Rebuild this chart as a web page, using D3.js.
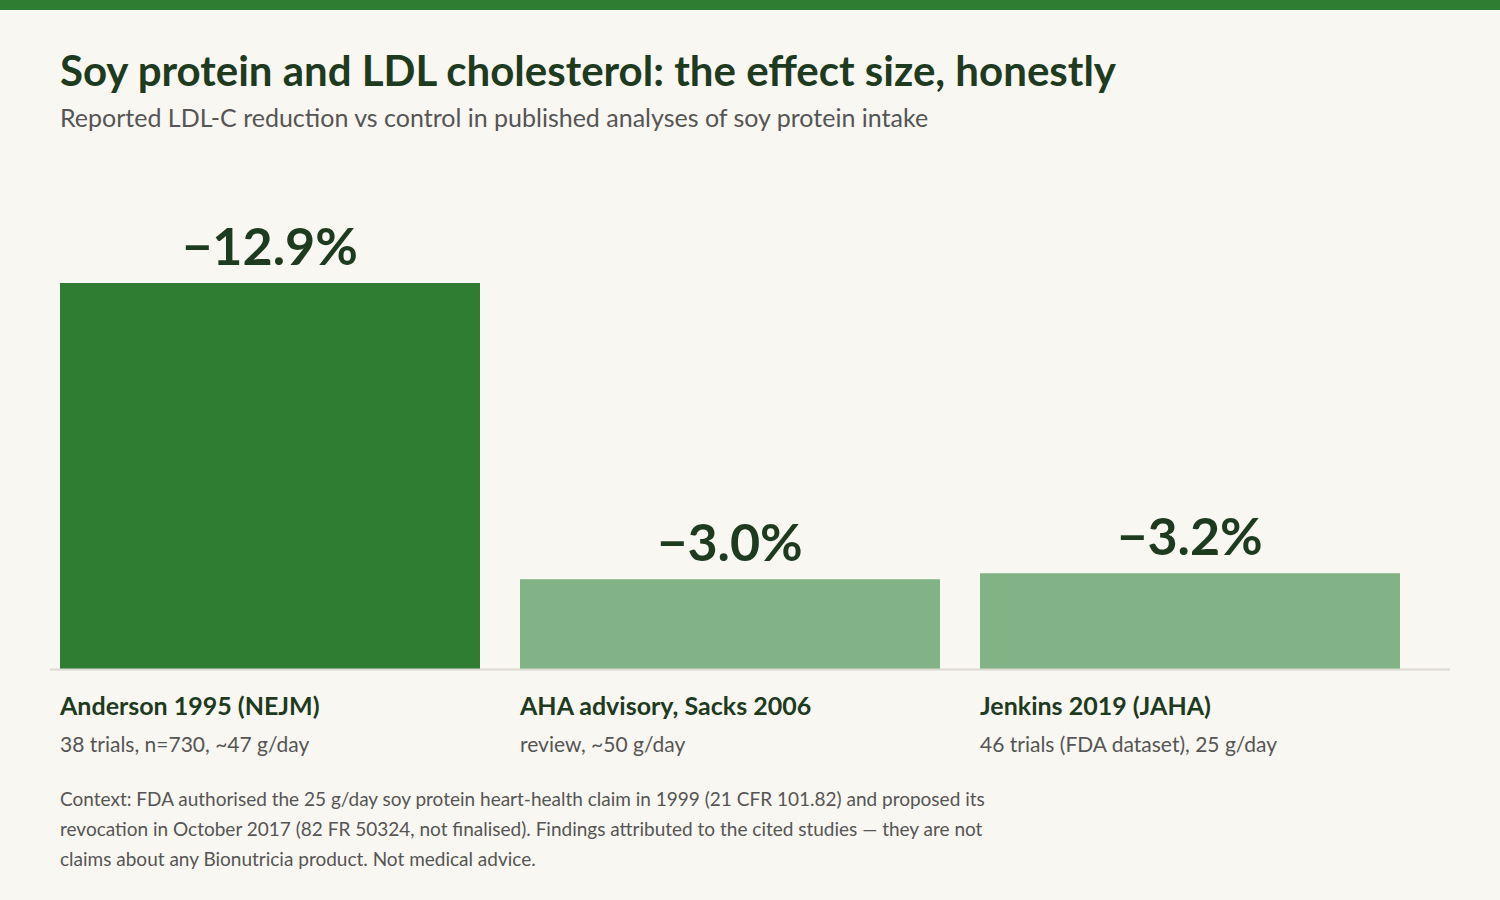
<!DOCTYPE html><html><head><meta charset="utf-8">
<script src="https://cdn.jsdelivr.net/npm/d3@7"></script>
<style>body{margin:0;background:#f9f7f1;}svg{display:block;font-family:Lato,sans-serif;}</style></head><body>
<svg id="c" width="1500" height="900"></svg>
<script>
const categories=["Anderson 1995 (NEJM)","AHA advisory, Sacks 2006","Jenkins 2019 (JAHA)"];
const details=["38 trials, n=730, ~47 g/day","review, ~50 g/day","46 trials (FDA dataset), 25 g/day"];
const values=[12.9,3.0,3.2];
const labels=["\u221212.9%","\u22123.0%","\u22123.2%"];
const highlight=[true,false,false];
const svg=d3.select("#c");
svg.append("rect").attr("width",1500).attr("height",900).attr("fill","#f9f7f1");
svg.append("rect").attr("width",1500).attr("height",10).attr("fill","#2e7d32");
svg.append("text").attr("x",60).attr("y",86).attr("font-size",42).attr("font-weight",700).attr("fill","#1e3a1f").text("Soy protein and LDL cholesterol: the effect size, honestly");
svg.append("text").attr("x",60).attr("y",127).attr("font-size",25).attr("fill","#555").text("Reported LDL-C reduction vs control in published analyses of soy protein intake");
const x=d3.scaleBand().domain(categories).range([40,1420]).paddingInner(40/460).paddingOuter(20/460);
const y=d3.scaleLinear().domain([0,12.9]).range([669,283]);
const g=svg.append("g");
categories.forEach((c,i)=>{
  const bx=x(c),bw=x.bandwidth();
  g.append("rect").attr("x",bx).attr("width",bw).attr("y",y(values[i])).attr("height",y(0)-y(values[i])).attr("fill",highlight[i]?"#2e7d32":"#81b386");
  g.append("text").attr("x",bx+bw/2).attr("y",y(values[i])-18).attr("text-anchor","middle").attr("font-size",52).attr("font-weight",700).attr("fill","#1e3a1f").text(labels[i]);
  g.append("text").attr("x",bx).attr("y",715).attr("font-size",25).attr("font-weight",700).attr("fill","#1e3a1f").text(c);
  g.append("text").attr("x",bx).attr("y",752).attr("font-size",21).attr("fill","#555").text(details[i]);
});
svg.append("line").attr("x1",50).attr("x2",1450).attr("y1",669.5).attr("y2",669.5).attr("stroke","#dddad2").attr("stroke-width",2);
const foot=["Context: FDA authorised the 25 g/day soy protein heart-health claim in 1999 (21 CFR 101.82) and proposed its","revocation in October 2017 (82 FR 50324, not finalised). Findings attributed to the cited studies \u2014 they are not","claims about any Bionutricia product. Not medical advice."];
foot.forEach((t,i)=>svg.append("text").attr("x",60).attr("y",806+i*30).attr("font-size",19).attr("fill","#555").text(t));
</script></body></html>
